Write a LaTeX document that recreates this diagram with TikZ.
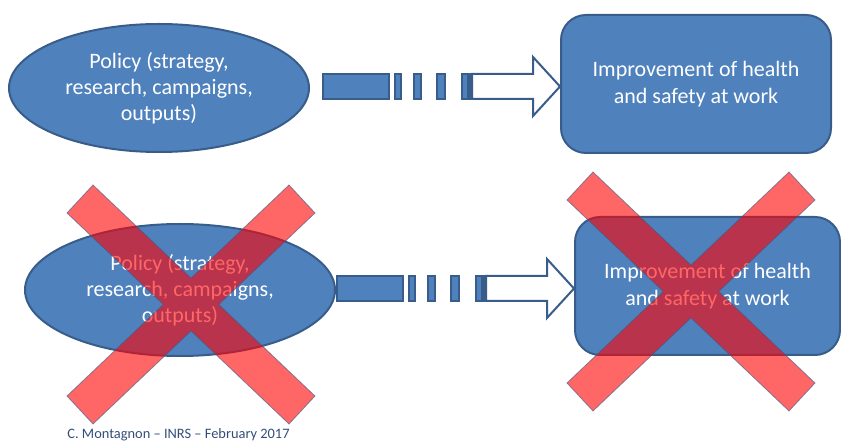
\documentclass[tikz,border=0pt]{standalone}
\usepackage{fontspec}
\setmainfont{Carlito}
\usepackage{tikz}
\usetikzlibrary{shapes.geometric, calc, positioning}
\definecolor{accentblue}{RGB}{79,129,189}
\definecolor{accentline}{RGB}{56,93,138}
\definecolor{footercol}{RGB}{50,78,120}

\tikzset{
  stripedarrow/.pic={
    \draw[fill=accentblue, draw=accentline, line width=2] (-237,-12.5) rectangle (-171,12.5);
    \foreach \a/\b in {-165/-159, -146/-139, -123/-115, -98/-92}
      \draw[fill=accentblue, draw=accentline, line width=2] (\a,-12.5) rectangle (\b,12.5);
    \draw[fill=white, draw=accentline, line width=2] (-90.5,-12.5) rectangle (-88.5,12.5);
    \draw[fill=white, draw=accentline, line width=2, line join=miter]
      (-88,-12.5) -- (-27,-12.5) -- (-27,-29.5) -- (0,0) -- (-27,29.5)
      -- (-27,12.5) -- (-88,12.5) -- cycle;
  },
  redcross/.pic={
    \draw[fill=red, draw=accentline, line width=0.8, opacity=0.6]
      (-98,-119.5) -- (0,-26.4) -- (98,-119.5) -- (124,-91.5) -- (27.7,0)
      -- (124,91.5) -- (98,119.5) -- (0,26.4) -- (-98,119.5) -- (-124,91.5)
      -- (-27.7,0) -- (-124,-91.5) -- cycle;
  }
}

\begin{document}
\begin{tikzpicture}[
    x=1pt, y=-1pt,
    blob/.style={ellipse, draw=accentline, fill=accentblue, line width=2,
                 inner sep=0pt, align=center, text=white,
                 font=\fontsize{22}{26}\selectfont},
    goalbox/.style={draw=accentline, fill=accentblue, line width=2,
                    rounded corners=25, inner sep=0pt, align=center, text=white,
                    font=\fontsize{22}{26.5}\selectfont}
  ]
  \useasboundingbox (0,0) rectangle (841,443);
  % top row
  \node[blob, minimum width=300, minimum height=128] (policy1) at (159,88)
    {Policy (strategy,\\research, campaigns,\\outputs)};
  \node[goalbox, minimum width=270, minimum height=138] (goal1) at (696,84)
    {Improvement of health\\and safety at work};
  \pic at ($(goal1.west)+(0,2.5)$) {stripedarrow};
  % bottom row
  \node[blob, minimum width=310, minimum height=132] (policy2) at (180,290)
    {Policy (strategy,\\research, campaigns,\\outputs)};
  \node[goalbox, minimum width=265, minimum height=138] (goal2) at (707.5,286)
    {Improvement of health\\and safety at work};
  \pic at ($(goal2.west)+(0,2.5)$) {stripedarrow};
  % crosses
  \pic at (191,304.5) {redcross};
  \pic at (691,291.5) {redcross};
  \node[text=footercol, font=\fontsize{14.4}{16}\selectfont] (footer) at (178.5,435)
    {C. Montagnon – INRS – February 2017};
\end{tikzpicture}
\end{document}
